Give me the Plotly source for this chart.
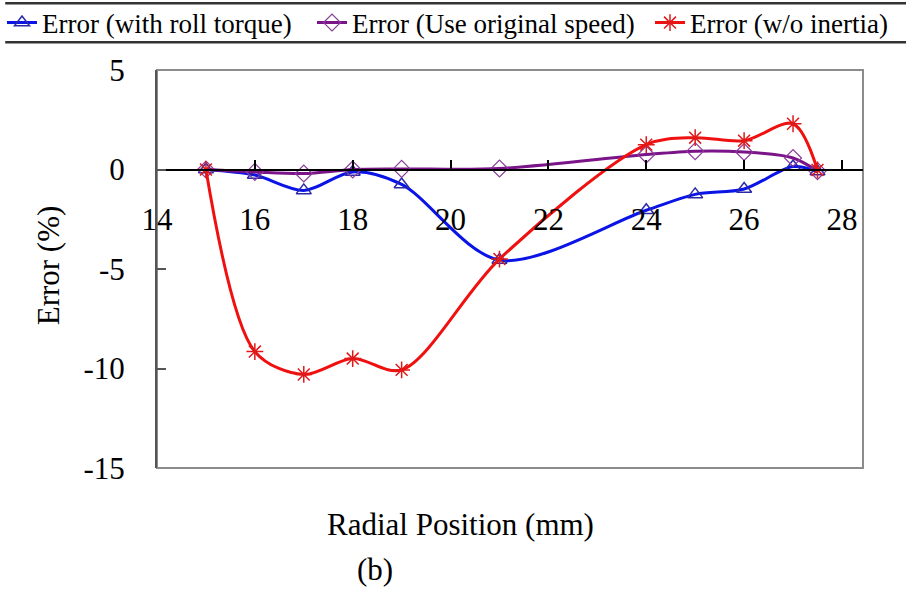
import plotly.graph_objects as go

radial = [15, 16, 17, 18, 19, 21, 24, 25, 26, 27, 27.5]
err_roll_torque = [0.0, -0.28, -1.05, -0.12, -0.75, -4.55, -2.05, -1.25, -0.98, 0.15, -0.1]
err_orig_speed = [0.0, -0.12, -0.2, 0.0, 0.03, 0.05, 0.75, 0.92, 0.88, 0.58, -0.08]
err_wo_inertia = [0.0, -9.15, -10.3, -9.5, -10.07, -4.5, 1.25, 1.6, 1.45, 2.3, -0.02]

x_ticks = [14, 16, 18, 20, 22, 24, 26, 28]
y_ticks = [5, 0, -5, -10, -15]

FONT = "Liberation Serif"

fig = go.Figure()
fig.add_trace(go.Scatter(
    x=radial, y=err_roll_torque, name="Error (with roll torque)", legend="legend",
    mode="lines+markers", line=dict(color="#0a14e6", width=3, shape="spline", smoothing=0.9),
    marker=dict(symbol="triangle-up-open", size=13, color="#2a2aa8", line=dict(width=1.5))))
fig.add_trace(go.Scatter(
    x=radial, y=err_orig_speed, name="Error (Use original speed)", legend="legend2",
    mode="lines+markers", line=dict(color="#7a1488", width=3, shape="spline", smoothing=0.9),
    marker=dict(symbol="diamond-open", size=13, color="#8a3c9a", line=dict(width=1.2))))
fig.add_trace(go.Scatter(
    x=radial, y=err_wo_inertia, name="Error (w/o inertia)", legend="legend3",
    mode="lines+markers", line=dict(color="#f01010", width=3, shape="spline", smoothing=0.9),
    marker=dict(symbol="asterisk-open", size=14, color="#e01818", line=dict(width=1.5, color="#e01818"))))

def leg(xpx):
    return dict(orientation="h", xref="container", yref="container",
                x=xpx / 906, xanchor="left", y=1 - 23 / 595, yanchor="middle",
                font=dict(family=FONT, size=27, color="black"),
                itemwidth=30, bgcolor="rgba(0,0,0,0)", borderwidth=0)

fig.update_layout(
    width=906, height=595,
    margin=dict(l=157, r=43, t=70, b=127, autoexpand=False),
    paper_bgcolor="white", plot_bgcolor="white",
    showlegend=True,
    legend=leg(2), legend2=leg(312), legend3=leg(650),
    xaxis=dict(range=[14, 28.43], tickvals=x_ticks, ticktext=[str(v) for v in x_ticks],
               anchor="free", position=0.75, showgrid=False, zeroline=False,
               showline=True, linecolor="black", linewidth=1.5,
               ticks="inside", ticklen=9, tickwidth=1.5, tickcolor="black",
               ticklabelstandoff=23,
               tickfont=dict(family=FONT, size=31, color="black")),
    yaxis=dict(range=[-15, 5], tickvals=y_ticks, ticktext=[str(v) for v in y_ticks],
               showgrid=False, zeroline=False,
               showline=True, linecolor="#555555", linewidth=2,
               ticks="inside", ticklen=9, tickwidth=1.5, tickcolor="#555555",
               ticklabelstandoff=24,
               tickfont=dict(family=FONT, size=31, color="black")),
    shapes=[
        dict(type="rect", xref="x domain", yref="y domain", x0=0, x1=1, y0=0, y1=1,
             line=dict(color="#8c8c8c", width=2), layer="below"),
        dict(type="line", xref="paper", yref="paper", x0=-0.215, x1=1.061, y0=1.168, y1=1.168,
             line=dict(color="#333333", width=2.5)),
        dict(type="line", xref="paper", yref="paper", x0=-0.215, x1=1.061, y0=1.070, y1=1.070,
             line=dict(color="#333333", width=2.5)),
    ],
    annotations=[
        dict(text="Error (%)", xref="paper", yref="paper", x=-0.154, y=0.51,
             xanchor="center", yanchor="middle",
             textangle=-90, showarrow=False, font=dict(family=FONT, size=31, color="black")),
        dict(text="Radial Position (mm)", xref="paper", yref="paper", x=0.43, y=-0.143,
             xanchor="center", yanchor="middle",
             showarrow=False, font=dict(family=FONT, size=31, color="black")),
        dict(text="(b)", xref="paper", yref="paper", x=0.309, y=-0.255,
             xanchor="center", yanchor="middle",
             showarrow=False, font=dict(family=FONT, size=31, color="black")),
    ],
)

fig.write_html("out.html")
